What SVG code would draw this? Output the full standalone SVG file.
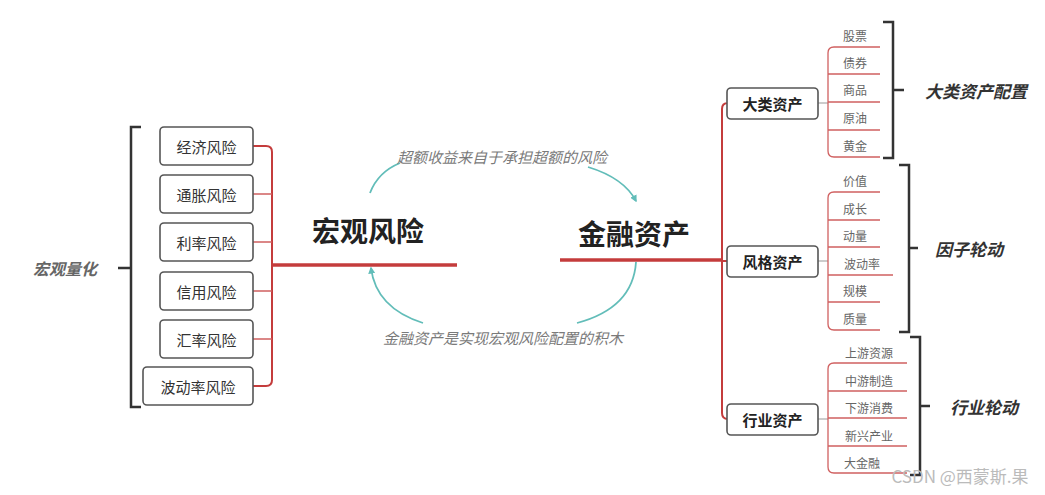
<svg xmlns="http://www.w3.org/2000/svg" width="1045" height="495" viewBox="0 0 1045 495">
<defs>
<style>
text{font-family:"Noto Sans CJK SC","Noto Sans",sans-serif;}
.box{fill:#fff;stroke:#555;stroke-width:1.6;}
.bt{font-size:15px;fill:#333;text-anchor:middle;dominant-baseline:central;}
.mt{font-size:15px;font-weight:bold;fill:#222;text-anchor:middle;dominant-baseline:central;}
.big{font-size:28px;font-weight:bold;fill:#222;text-anchor:middle;dominant-baseline:central;}
.sub{font-size:12px;fill:#666;text-anchor:middle;dominant-baseline:central;}
.lbl{font-size:17px;font-weight:bold;font-style:italic;fill:#333;text-anchor:middle;dominant-baseline:central;}
.lblg{font-size:16px;font-weight:bold;font-style:italic;fill:#666;text-anchor:middle;dominant-baseline:central;}
.arc{font-size:15px;font-style:italic;fill:#7a7a7a;text-anchor:middle;dominant-baseline:central;}
.red{fill:none;stroke:#c43c3c;stroke-width:2;}
.redt{fill:none;stroke:#c43c3c;stroke-width:3.5;}
.redf{fill:none;stroke:#d06060;stroke-width:1.3;}
.grey{fill:none;stroke:#aaa;stroke-width:1.2;}
.brk{fill:none;stroke:#333;stroke-width:2.5;}
.teal{fill:none;stroke:#62bdb9;stroke-width:1.8;}
</style>
<marker id="ah" viewBox="0 0 10 10" refX="8" refY="5" markerWidth="7" markerHeight="7" orient="auto-start-reverse" markerUnits="userSpaceOnUse">
<path d="M0,0 L10,5 L0,10 z" fill="#62bdb9"/>
</marker>
</defs>
<rect width="1045" height="495" fill="#fff"/>

<g id="connectors">
<!-- left -->
<path class="red" d="M253,146 H266 Q272,146 272,152 V380 Q272,386 266,386 H253"/>
<path class="redf" d="M253,194 H272 M253,242 H272 M253,291 H272 M253,339 H272"/>
<path class="redt" d="M272,265 H457"/>
<path class="brk" d="M141,127 H131 V407 H141 M118,268 H131"/>
<!-- right main -->
<path class="redt" d="M560,260 H722"/>
<path class="red" d="M727,103 H728 Q722,103 722,109 V413 Q722,419 728,419 H727"/>
<path class="red" d="M722,261 H727"/>
<!-- group 1 -->
<path class="grey" d="M818,103 H828"/>
<path class="redf" d="M880,47 H834 Q828,47 828,53 V151 Q828,157 834,157 H880 M828,74 H880 M828,102 H880 M828,130 H880"/>
<path class="brk" d="M883,22 H893 V158 H883 M893,90 H904"/>
<!-- group 2 -->
<path class="grey" d="M818,261 H828"/>
<path class="redf" d="M880,192 H834 Q828,192 828,198 V324 Q828,330 834,330 H880 M828,220 H880 M828,247 H880 M828,275 H893 M828,302 H880"/>
<path class="brk" d="M899,165 H909 V332 H899 M909,248 H918"/>
<!-- group 3 -->
<path class="grey" d="M818,419 H828"/>
<path class="redf" d="M907,363 H834 Q828,363 828,369 V467 Q828,473 834,473 H907 M828,391 H907 M828,418 H907 M828,446 H907"/>
<path class="brk" d="M910,337 H920 V475 H910 M920,406 H930"/>
<!-- cycle arrows -->
<path class="teal" d="M370,193 Q378,172 400,163"/>
<path class="teal" d="M588,167 Q624,178 636,201" marker-end="url(#ah)"/>
<path class="teal" d="M423,323 Q376,308 371,268" marker-end="url(#ah)"/>
<path class="teal" d="M636,262 Q633,308 577,323"/>
</g>

<g id="n-hongguanlianghua"><text class="lblg" x="65" y="268">宏观量化</text></g>
<g id="n-jingji"><rect class="box" x="160" y="127" width="93" height="38" rx="4"/><text class="bt" x="206.5" y="146">经济风险</text></g>
<g id="n-tongzhang"><rect class="box" x="160" y="175" width="93" height="38" rx="4"/><text class="bt" x="206.5" y="194">通胀风险</text></g>
<g id="n-lilv"><rect class="box" x="160" y="223" width="93" height="38" rx="4"/><text class="bt" x="206.5" y="242">利率风险</text></g>
<g id="n-xinyong"><rect class="box" x="160" y="272" width="93" height="38" rx="4"/><text class="bt" x="206.5" y="291">信用风险</text></g>
<g id="n-huilv"><rect class="box" x="160" y="320" width="93" height="38" rx="4"/><text class="bt" x="206.5" y="339">汇率风险</text></g>
<g id="n-bodonglv"><rect class="box" x="143" y="367" width="110" height="38" rx="4"/><text class="bt" x="198" y="386">波动率风险</text></g>

<g id="n-hongguan"><text class="big" x="368" y="230">宏观风险</text></g>
<g id="n-jinrong"><text class="big" x="634" y="233">金融资产</text></g>
<g id="l-top"><text class="arc" x="502" y="156">超额收益来自于承担超额的风险</text></g>
<g id="l-bottom"><text class="arc" x="503" y="337">金融资产是实现宏观风险配置的积木</text></g>

<g id="n-dalei"><rect class="box" x="727" y="88" width="91" height="31" rx="4"/><text class="mt" x="772.5" y="103.5">大类资产</text></g>
<g id="n-fengge"><rect class="box" x="727" y="246" width="91" height="31" rx="4"/><text class="mt" x="772.5" y="261.5">风格资产</text></g>
<g id="n-hangye"><rect class="box" x="727" y="404" width="91" height="31" rx="4"/><text class="mt" x="772.5" y="419.5">行业资产</text></g>

<g id="g-dalei-items">
<text class="sub" x="855" y="35">股票</text>
<text class="sub" x="855" y="62">债券</text>
<text class="sub" x="855" y="89">商品</text>
<text class="sub" x="855" y="117">原油</text>
<text class="sub" x="855" y="145">黄金</text>
</g>
<g id="g-fengge-items">
<text class="sub" x="855" y="180">价值</text>
<text class="sub" x="855" y="208">成长</text>
<text class="sub" x="855" y="235">动量</text>
<text class="sub" x="862" y="263">波动率</text>
<text class="sub" x="855" y="290">规模</text>
<text class="sub" x="855" y="318">质量</text>
</g>
<g id="g-hangye-items">
<text class="sub" x="869" y="352">上游资源</text>
<text class="sub" x="869" y="380">中游制造</text>
<text class="sub" x="869" y="407">下游消费</text>
<text class="sub" x="869" y="435">新兴产业</text>
<text class="sub" x="862" y="462">大金融</text>
</g>

<g id="n-daleipeizhi"><text class="lbl" x="976" y="90">大类资产配置</text></g>
<g id="n-yinzi"><text class="lbl" x="969" y="248">因子轮动</text></g>
<g id="n-hangyelundong"><text class="lbl" x="984" y="406">行业轮动</text></g>

<text x="960" y="475" font-size="17" fill="#bbb" text-anchor="middle" dominant-baseline="central">CSDN @西蒙斯.果</text>
</svg>
